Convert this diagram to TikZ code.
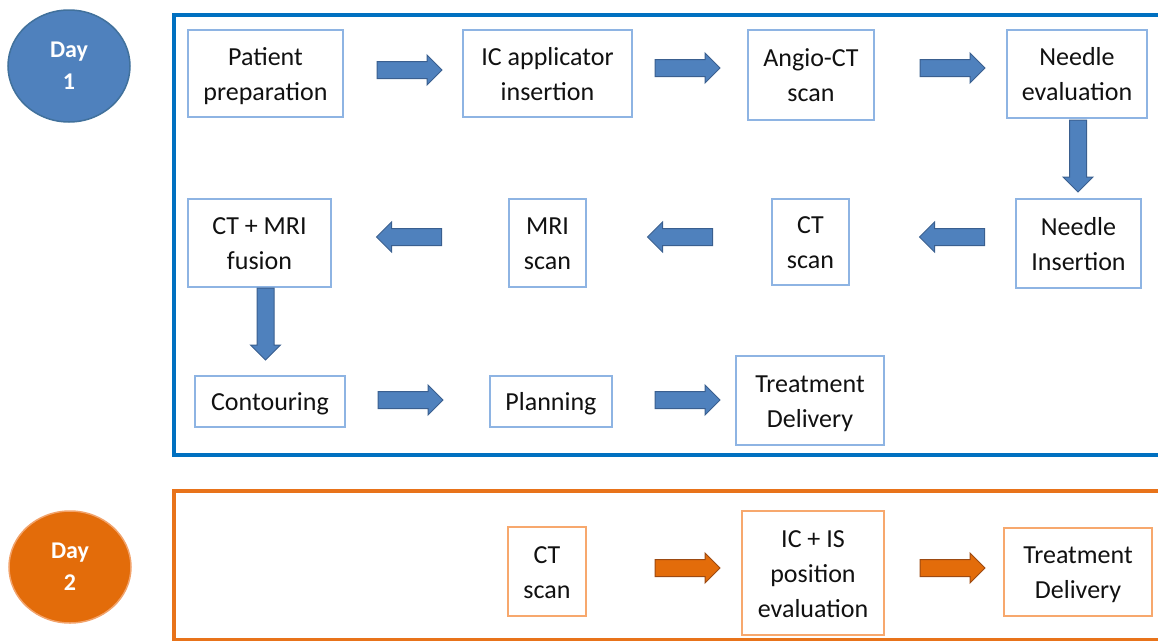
\documentclass[tikz,border=0pt]{standalone}
\usepackage{fontspec}
\setmainfont{Carlito}
\usetikzlibrary{shapes.geometric}
\definecolor{frameblue}{HTML}{0070C0}
\definecolor{boxblue}{HTML}{8EB4E3}
\definecolor{arrblue}{HTML}{4F81BD}
\definecolor{arrblueline}{HTML}{3A5F8F}
\definecolor{dayblueline}{HTML}{41719C}
\definecolor{frameorange}{HTML}{E8731A}
\definecolor{dayorange}{HTML}{E36C0A}
\definecolor{dayorangeline}{HTML}{F2A36B}
\definecolor{boxorange}{HTML}{F7A86D}
\definecolor{arrorange}{HTML}{E36C0A}
\definecolor{arrorangeline}{HTML}{9C4A12}
\definecolor{textblack}{HTML}{111111}
\begin{document}
\begin{tikzpicture}[x=1pt,y=-1pt,
  box/.style={draw=boxblue, line width=1.8pt, fill=white, align=center, text=textblack,
    font=\fontsize{26}{35}\selectfont, inner sep=0pt, text depth=9pt},
  one/.style={text height=27pt},
  two/.style={text height=62pt},
  three/.style={text height=97pt},
  obox/.style={box, draw=boxorange},
  pics/barr/.style={code={
    \draw[pic actions] (-#1/2,-8.5) -- (#1/2-15,-8.5) -- (#1/2-15,-15) -- (#1/2,0)
      -- (#1/2-15,15) -- (#1/2-15,8.5) -- (-#1/2,8.5) -- cycle;}},
  bar/.style={draw=arrblueline, fill=arrblue, line width=1pt},
  oar/.style={draw=arrorangeline, fill=arrorange, line width=1pt},
  day/.style={ellipse, align=center, text=white, font=\fontsize{24}{32}\selectfont\bfseries,
    minimum width=122pt, minimum height=112pt, line width=1.5pt, inner sep=0pt},
  frame/.style={line width=3.5pt}
]
\useasboundingbox (0,0) rectangle (1158,640);
\clip (0,0) rectangle (1158,640);

% frames
\draw[frame, frameblue] (174,15) rectangle (1180,455);
\draw[frame, frameorange] (174,491) rectangle (1180,640);

% day circles
\node[day, fill=arrblue, draw=dayblueline] (day1) at (69,66) {Day\\1};
\node[day, fill=dayorange, draw=dayorangeline] (day2) at (70,567) {Day\\2};

% day 1 boxes
\node[box, two, minimum width=155pt, minimum height=87pt] (p1) at (265.5,73.5) {Patient\\preparation};
\node[box, two, minimum width=169pt, minimum height=87pt] (p2) at (547.5,73.5) {IC applicator\\insertion};
\node[box, two, minimum width=126pt, minimum height=90pt] (p3) at (811,75) {Angio-CT\\scan};
\node[box, two, minimum width=140pt, minimum height=88pt] (p4) at (1077,74) {Needle\\evaluation};
\node[box, two, minimum width=125pt, minimum height=89pt] (p5) at (1078.5,243.5) {Needle\\Insertion};
\node[box, two, minimum width=77pt, minimum height=86pt] (p6) at (810.5,242) {CT\\scan};
\node[box, two, minimum width=77pt, minimum height=88pt] (p7) at (547.5,243) {MRI\\scan};
\node[box, two, minimum width=143pt, minimum height=88pt] (p8) at (259.5,243) {CT + MRI\\fusion};
\node[box, one, minimum width=150pt, minimum height=51pt] (p9) at (270,401.5) {Contouring};
\node[box, one, minimum width=122pt, minimum height=51pt] (p10) at (551,401.5) {Planning};
\node[box, two, minimum width=148pt, minimum height=89pt] (p11) at (810,400.5) {Treatment\\Delivery};

% day 2 boxes
\node[obox, two, minimum width=78pt, minimum height=89pt] (p12) at (547,571.5) {CT\\scan};
\node[obox, three, minimum width=142pt, minimum height=124pt] (p13) at (813,573) {IC + IS\\position\\evaluation};
\node[obox, two, minimum width=148pt, minimum height=88pt] (p14) at (1078,572) {Treatment\\Delivery};

% block arrows
\pic[bar] (a1) at (409.5,70) {barr=65};
\pic[bar] (a2) at (687.5,68) {barr=65};
\pic[bar] (a3) at (952.5,68) {barr=65};
\pic[bar, rotate=-90] (a4) at (1078,156) {barr=72};
\pic[bar, rotate=180] (a5) at (952,237) {barr=65};
\pic[bar, rotate=180] (a6) at (680,237) {barr=65};
\pic[bar, rotate=180] (a7) at (409,237) {barr=65};
\pic[bar, rotate=-90] (a8) at (265.5,324) {barr=72};
\pic[bar] (a9) at (410.5,400) {barr=65};
\pic[bar] (a10) at (687.5,400) {barr=65};
\pic[oar] (a11) at (687.5,568) {barr=65};
\pic[oar] (a12) at (952.5,568) {barr=65};
\end{tikzpicture}
\end{document}
